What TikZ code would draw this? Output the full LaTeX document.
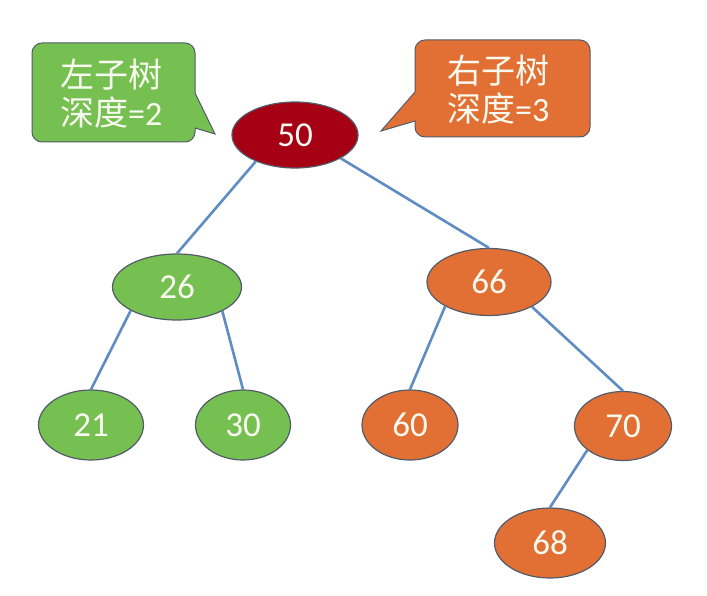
\documentclass[tikz,border=0pt]{standalone}
\usepackage{fontspec}
\setmainfont{Carlito}
\newfontfamily\cjk{Noto Sans CJK SC}
\usetikzlibrary{shapes.geometric}
\definecolor{gfill}{RGB}{118,192,82}
\definecolor{ofill}{RGB}{226,112,52}
\definecolor{rfill}{RGB}{166,0,20}
\definecolor{edgeblue}{RGB}{95,140,195}
\definecolor{nborder}{RGB}{80,92,105}
\definecolor{txt}{RGB}{248,250,240}
\tikzset{
  treenode/.style={ellipse, draw=nborder, line width=1.2pt, inner sep=0pt, text=txt,
    font=\fontsize{35}{40}\selectfont},
  gnode/.style={treenode, fill=gfill},
  onode/.style={treenode, fill=ofill},
  rnode/.style={treenode, fill=rfill},
  link/.style={draw=edgeblue, line width=2.6pt},
  bubble/.style={draw=nborder, line width=1pt},
  bubbletext/.style={text=txt, align=left, inner sep=0pt,
    font=\fontsize{34}{38}\selectfont}
}
\begin{document}
\begin{tikzpicture}[x=1pt,y=-1pt]
\useasboundingbox[fill=white] (0,0) rectangle (707,596);
% callouts
\draw[bubble, fill=gfill] (195,93) -- (215,134) -- (195,128)
  [rounded corners=10pt] -- (195,142) -- (32,142) -- (32,43) -- (195,43) [sharp corners] -- cycle;
\node[bubbletext, anchor=west] (lt) at (60,94) {{\cjk 左子树}\\{\cjk 深度}=2};
\draw[bubble, fill=ofill] (415,92) -- (381,131) -- (415,121)
  [rounded corners=10pt] -- (415,137) -- (590,137) -- (590,40) -- (415,40) [sharp corners] -- cycle;
\node[bubbletext, anchor=west] (rt) at (447,90) {{\cjk 右子树}\\{\cjk 深度}=3};
% tree nodes
\node[rnode, minimum width=126pt, minimum height=66pt] (n50) at (295,135) {50};
\node[gnode, minimum width=129pt, minimum height=66pt] (n26) at (177,287) {26};
\node[onode, minimum width=124pt, minimum height=67pt] (n66) at (489,282) {66};
\node[gnode, minimum width=105pt, minimum height=70pt] (n21) at (91,425) {21};
\node[gnode, minimum width=95pt, minimum height=70pt] (n30) at (243,425) {30};
\node[onode, minimum width=96pt, minimum height=70pt] (n60) at (410,425) {60};
\node[onode, minimum width=97pt, minimum height=69pt] (n70) at (623,426) {70};
\node[onode, minimum width=111pt, minimum height=70pt] (n68) at (550,543) {68};
% edges
\draw[link] (n50.214) -- (n26.north);
\draw[link] (n50.333) -- (n66.north);
\draw[link] (n26.207) -- (n21.north);
\draw[link] (n26.332) -- (n30.north);
\draw[link] (n66.209) -- (n60.north);
\draw[link] (n66.330) -- (n70.north);
\draw[link] (n70.214) -- (n68.north);
\end{tikzpicture}
\end{document}
